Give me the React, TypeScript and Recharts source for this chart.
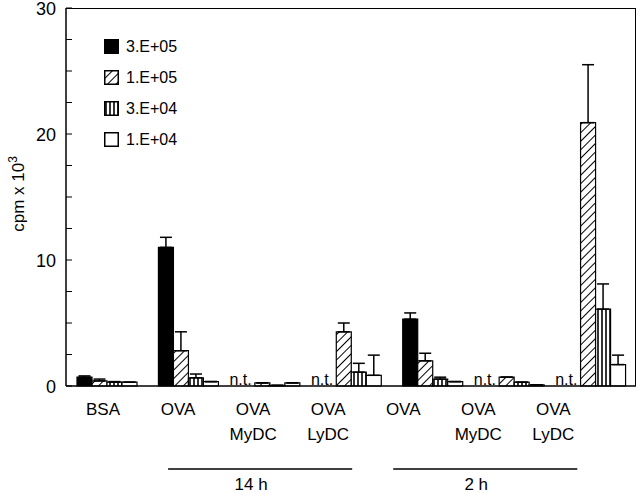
import React from "react";
import { BarChart, Bar, XAxis, YAxis, ErrorBar, Legend } from "recharts";

const line1 = ["BSA", "OVA", "OVA", "OVA", "OVA", "OVA", "OVA"];
const line2 = ["", "", "MyDC", "LyDC", "", "MyDC", "LyDC"];
const notTested = [false, false, true, true, false, true, true];

// cpm x 10^3, bar height and upward SD
const s3e5 = [0.7, 11.0, 0, 0, 5.3, 0, 0];
const s1e5 = [0.4, 2.8, 0.25, 4.3, 2.0, 0.7, 20.9];
const s3e4 = [0.3, 0.65, 0.05, 1.1, 0.55, 0.3, 6.1];
const s1e4 = [0.3, 0.35, 0.25, 0.85, 0.35, 0.1, 1.7];
const e3e5 = [0.1, 0.8, 0, 0, 0.5, 0, 0];
const e1e5 = [0.15, 1.5, 0, 0.7, 0.6, 0, 4.6];
const e3e4 = [0.05, 0.3, 0, 0.7, 0.15, 0, 2.0];
const e1e4 = [0, 0, 0, 1.6, 0, 0, 0.75];

const yTicks = [0, 2.5, 5, 7.5, 10, 12.5, 15, 17.5, 20, 22.5, 25, 27.5, 30];
const timeGroups = [
  { label: "14 h", from: 1, to: 3 },
  { label: "2 h", from: 4, to: 6 },
];

const series = [
  { key: "a", name: "3.E+05", fill: "#000" },
  { key: "b", name: "1.E+05", fill: "url(#hatch)" },
  { key: "c", name: "3.E+04", fill: "url(#vstripe)" },
  { key: "d", name: "1.E+04", fill: "#fff" },
];

const data = line1.map((l, i) => ({
  cat: i,
  a: s3e5[i],
  b: s1e5[i],
  c: s3e4[i],
  d: s1e4[i],
  aErr: [0, e3e5[i]],
  bErr: [0, e1e5[i]],
  cErr: [0, e3e4[i]],
  dErr: [0, e1e4[i]],
}));

const FONT = "'Liberation Sans', Arial, Helvetica, sans-serif";
const W = 640;
const H = 504;
const M = { top: 8, right: 4, left: 16, bottom: 18 };
const plotW = W - M.left - 50 - M.right;
const band = plotW / line1.length;
const labelSqueeze = 0.9216;
const labelStep = band * labelSqueeze;

const labelX = (x: number) => x * labelSqueeze + 4.7;

function XTick(props: any) {
  const { x, y, payload } = props;
  const i = payload.index;
  const lx = labelX(x);
  const grp = timeGroups.find((g) => g.from === i);
  const mid = timeGroups.find((g) => Math.round((g.from + g.to) / 2) === i);
  return (
    <g fontFamily={FONT} fontSize={17} fill="#000">
      {notTested[i] && (
        <text x={x - 29} y={y - 1} textAnchor="middle" fontSize={16} fill="#000">n.t.</text>
      )}
      <text x={lx} y={y + 29} textAnchor="middle">{line1[i]}</text>
      {line2[i] && <text x={lx} y={y + 54} textAnchor="middle">{line2[i]}</text>}
      {grp && (
        <line x1={lx - 10} x2={lx + (grp.to - grp.from) * labelStep + 24} y1={y + 83} y2={y + 83} stroke="#000" strokeWidth={1.3} />
      )}
      {mid && <text x={lx - 2} y={y + 104} textAnchor="middle">{mid.label}</text>}
    </g>
  );
}

function YTick(props: any) {
  const { x, y, payload } = props;
  const major = payload.value % 10 === 0;
  return (
    <g>
      <line x1={x + 10} x2={x + 16} y1={y} y2={y} stroke="#000" strokeWidth={1} />
      {major && (
        <text x={x} y={y + 7} textAnchor="end" fontFamily={FONT} fontSize={18} fill="#000">
          {payload.value}
        </text>
      )}
    </g>
  );
}

function YLabel(props: any) {
  const vb = props.viewBox;
  const cx = vb.x + 8;
  const cy = vb.y + vb.height / 2 - 3;
  return (
    <text x={cx} y={cy} transform={`rotate(-90, ${cx}, ${cy})`} textAnchor="middle" fontFamily={FONT} fontSize={17} fill="#000">
      cpm x 10<tspan dy={-7} fontSize={12}>3</tspan>
    </text>
  );
}

function LegendBox() {
  return (
    <div style={{ fontFamily: FONT, fontSize: 16, color: "#000" }}>
      {series.map((s) => (
        <div key={s.key} style={{ display: "flex", alignItems: "center", height: 31 }}>
          <svg width={15} height={15} style={{ display: "block" }}>
            <rect x={0.75} y={0.75} width={13.5} height={13.5} fill={s.fill} stroke="#000" strokeWidth={1.5} />
          </svg>
          <span style={{ marginLeft: 7 }}>{s.name}</span>
        </div>
      ))}
    </div>
  );
}

export default function App() {
  return (
    <div style={{ position: "absolute", left: 0, top: 0, width: W, height: H, background: "#fff" }}>
      <BarChart width={W} height={H} data={data} margin={M} barSize={15} barGap={0}>
        <defs>
          <pattern id="hatch" width={6} height={6} patternUnits="userSpaceOnUse" patternTransform="rotate(45)">
            <rect width={6} height={6} fill="#fff" />
            <line x1={0} y1={0} x2={0} y2={6} stroke="#000" strokeWidth={2} />
          </pattern>
          <pattern id="vstripe" width={4} height={4} patternUnits="userSpaceOnUse">
            <rect width={4} height={4} fill="#fff" />
            <line x1={2} y1={0} x2={2} y2={4} stroke="#000" strokeWidth={1.6} />
          </pattern>
        </defs>
        <XAxis
          dataKey="cat"
          height={100}
          axisLine={{ stroke: "#000", strokeWidth: 1.5 }}
          tickLine={false}
          tickSize={0}
          tickMargin={0}
          interval={0}
          tick={<XTick />}
        />
        <YAxis
          width={50}
          domain={[0, 30]}
          ticks={yTicks}
          interval={0}
          axisLine={{ stroke: "#000", strokeWidth: 1.5 }}
          tickLine={false}
          tickSize={0}
          tickMargin={10}
          tick={<YTick />}
          label={<YLabel />}
        />
        <Legend
          layout="vertical"
          align="center"
          verticalAlign="middle"
          wrapperStyle={{ left: 104, top: 31, width: 120, height: 130 }}
          content={() => <LegendBox />}
        />
        {series.map((s) => (
          <Bar key={s.key} dataKey={s.key} name={s.name} fill={s.fill} stroke="#000" strokeWidth={1.2} isAnimationActive={false}>
            <ErrorBar dataKey={`${s.key}Err`} width={6} stroke="#000" strokeWidth={1.5} direction="y" />
          </Bar>
        ))}
      </BarChart>
      <div
        style={{
          position: "absolute",
          left: 66,
          top: M.top,
          width: plotW,
          height: H - M.top - M.bottom - 100,
          borderTop: "1.5px solid #000",
          borderRight: "1.5px solid #000",
          boxSizing: "border-box",
          pointerEvents: "none",
        }}
      />
    </div>
  );
}
